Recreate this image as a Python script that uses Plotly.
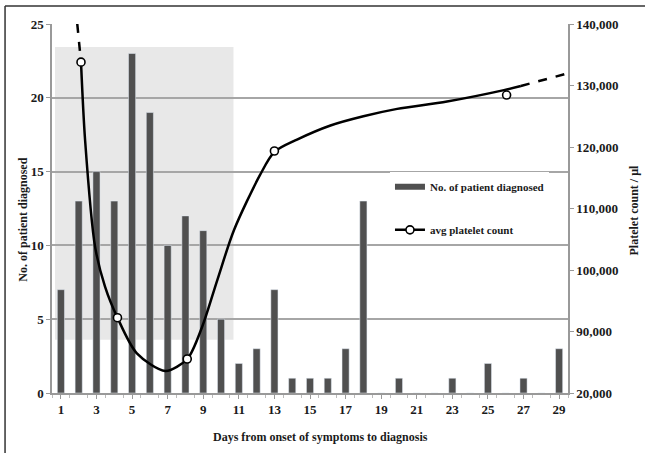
import plotly.graph_objects as go

days = list(range(1, 30))
patients = [7, 13, 15, 13, 23, 19, 10, 12, 11, 5, 2, 3, 7, 1, 1, 1, 3, 13, 0, 1, 0, 0, 1, 0, 2, 0, 1, 0, 3]
x_tick_days = list(range(1, 30, 2))

marker_days = [2.13, 4.18, 8.1, 13.0, 26.05]
marker_platelets = [133800, 92240, 85530, 119350, 128450]

trend_days = [2.13, 2.36, 2.92, 3.48, 4.18, 5.27, 6.87, 8.1, 8.94, 9.79, 10.73, 12.2, 13.0, 14.27, 16.15, 18.0, 19.9, 22.7, 25.9, 26.85]
trend_platelets = [133800, 121100, 103800, 97300, 92240, 86450, 83580, 85530, 90780, 98370, 106500, 115500, 119200, 121200, 123500, 125000, 126200, 127400, 129250, 129920]

dash_start_days = [1.92, 2.13]
dash_start_platelets = [140000, 133800]
dash_end_days = [26.85, 29.5]
dash_end_platelets = [129920, 131980]

left_tickvals = [0, 5, 10, 15, 20, 25]
right_tickvals = [80000, 90000, 100000, 110000, 120000, 130000, 140000]
right_ticktext = ["20,000", "90,000", "100,000", "110,000", "120,000", "130,000", "140,000"]

FONT = "Liberation Serif"
TXT = "#1a1a1a"

fig = go.Figure()

fig.add_trace(go.Bar(
    x=days, y=patients, width=0.4, marker_color="#505050",
    showlegend=False,
))
fig.add_trace(go.Scatter(
    x=trend_days, y=trend_platelets, yaxis="y2", mode="lines",
    line=dict(color="black", width=2.5, shape="spline", smoothing=0.8),
    showlegend=False, hoverinfo="skip",
))
fig.add_trace(go.Scatter(
    x=dash_start_days, y=dash_start_platelets, yaxis="y2", mode="lines",
    line=dict(color="black", width=2.5, dash="dash"), showlegend=False,
))
fig.add_trace(go.Scatter(
    x=dash_end_days, y=dash_end_platelets, yaxis="y2", mode="lines",
    line=dict(color="black", width=2.5, dash="dash"), showlegend=False,
))
fig.add_trace(go.Scatter(
    x=marker_days, y=marker_platelets, yaxis="y2", mode="markers",
    marker=dict(symbol="circle", size=8, color="white", line=dict(color="black", width=1.6)),
    showlegend=False,
))
# legend-only entries
fig.add_trace(go.Scatter(
    x=[None], y=[None], mode="lines",
    line=dict(color="#505050", width=6),
    name="<b>No. of patient diagnosed</b>", legendgroup="a",
))
fig.add_trace(go.Scatter(
    x=[None], y=[None], yaxis="y2", mode="lines+markers",
    line=dict(color="black", width=2.5),
    marker=dict(symbol="circle", size=8, color="white", line=dict(color="black", width=1.6)),
    name="<b>avg platelet count</b>", legendgroup="b",
))

# shaded region
fig.add_shape(type="rect", xref="x", yref="y", x0=0.67, x1=10.7, y0=3.6, y1=23.45,
              fillcolor="#e8e8e8", line_width=0, layer="below")
# outer frame (top and left)
fig.add_shape(type="line", xref="paper", yref="paper", x0=-0.091, x1=1.3, y0=1.049, y1=1.049,
              line=dict(color="#333333", width=1.5))
fig.add_shape(type="line", xref="paper", yref="paper", x0=-0.091, x1=-0.091, y0=-0.3, y1=1.049,
              line=dict(color="#333333", width=1.5))

fig.add_annotation(text="<b>No. of patient diagnosed</b>", xref="paper", yref="paper",
                   x=-0.058, y=0.47, textangle=-90, showarrow=False,
                   xanchor="center", yanchor="middle", font=dict(family=FONT, size=12, color=TXT))
fig.add_annotation(text="<b>Platelet count / µl</b>", xref="paper", yref="paper",
                   x=1.127, y=0.496, textangle=-90, showarrow=False,
                   xanchor="center", yanchor="middle", font=dict(family=FONT, size=12, color=TXT))
fig.add_annotation(text="<b>Days from onset of symptoms to diagnosis</b>", xref="paper", yref="paper",
                   x=0.52, y=-0.119, showarrow=False,
                   xanchor="center", yanchor="middle", font=dict(family=FONT, size=12, color=TXT))

fig.update_layout(
    width=645, height=453,
    margin=dict(l=52, r=77, t=24, b=60, autoexpand=False),
    paper_bgcolor="white", plot_bgcolor="white",
    font=dict(family=FONT, size=12, color=TXT),
    hovermode=False,
    xaxis=dict(
        range=[0.5, 29.5], tickvals=x_tick_days,
        ticktext=["<b>%d</b>" % d for d in x_tick_days],
        tickfont=dict(family=FONT, size=13, color=TXT),
        ticks="outside", ticklen=4, tickcolor="#999999",
        minor=dict(dtick=1, tick0=0.5, ticks="outside", ticklen=3, tickcolor="#bbbbbb"),
        showline=True, linecolor="#999999", linewidth=1.5,
        showgrid=False, zeroline=False, automargin=False,
    ),
    yaxis=dict(
        range=[0, 25], tickvals=left_tickvals,
        ticktext=["<b>%d</b>" % v for v in left_tickvals],
        tickfont=dict(family=FONT, size=13, color=TXT),
        ticks="outside", ticklen=4, tickcolor="#999999",
        showline=True, linecolor="#999999", linewidth=1.5,
        showgrid=True, gridcolor="#a6a6a6", gridwidth=1.5, zeroline=False, automargin=False,
    ),
    yaxis2=dict(
        overlaying="y", side="right", range=[80000, 140000],
        tickvals=right_tickvals, ticktext=["<b>" + t + "</b>" for t in right_ticktext],
        tickfont=dict(family=FONT, size=13, color=TXT),
        ticks="outside", ticklen=4, tickcolor="#999999",
        showline=True, linecolor="#999999", linewidth=1.5,
        showgrid=False, zeroline=False, automargin=False,
    ),
    legend=dict(
        x=0.655, y=0.598, xanchor="left", yanchor="top",
        bgcolor="white", borderwidth=0,
        font=dict(family=FONT, size=11, color=TXT),
        traceorder="grouped", tracegroupgap=24,
    ),
)

fig.write_html("out.html", config={"displayModeBar": False},
               post_script="document.body.style.margin='0';document.body.style.overflow='hidden';")
